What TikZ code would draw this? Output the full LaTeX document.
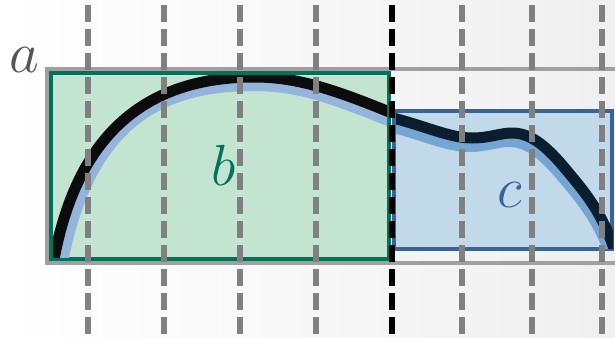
\RequirePackage{fix-cm}
\documentclass[tikz,border=0pt]{standalone}
\usetikzlibrary{positioning}
\definecolor{bgray}{RGB}{160,160,160}
\definecolor{dgray}{RGB}{128,128,128}
\definecolor{agray}{RGB}{85,85,85}
\definecolor{bline}{RGB}{0,115,90}
\definecolor{bfill}{RGB}{194,228,208}
\definecolor{cline}{RGB}{58,100,152}
\definecolor{cfill}{RGB}{194,217,234}
\definecolor{lshade}{RGB}{148,180,220}
\definecolor{rshade}{RGB}{116,165,211}
\definecolor{rtrace}{RGB}{10,30,48}
\definecolor{ltrace}{RGB}{12,12,12}

\begin{document}
\begin{tikzpicture}[
  x=1pt, y=-1pt,
  font=\fontsize{58}{58}\selectfont,
  region/.style={line width=4pt},
  guide/.style={line width=6pt, dgray, dash pattern=on 17pt off 7pt},
  cut/.style={guide, black},
  trace/.style={line width=11pt, line join=round},
  shade/.style={line width=10pt, line join=round},
  lbl/.style={anchor=base, inner sep=0pt},
]
% ---- canvas ----
\clip (0,0) rectangle (615,337);
\shade[left color=white, right color=black!6] (0,0) rectangle (615,337);
% ---- regions a, b, c ----
\draw[region, bgray] (47,69) rectangle (640,263);
\draw[region, bline, fill=bfill] (51,73) rectangle (389,259);
\draw[region, cline, fill=cfill] (394,111) rectangle (612,249);
% ---- the signal, left part ----
\begin{scope}
  \clip (53,75) rectangle (387,257);
  \draw[shade, lshade] (62,267) .. controls (89,122) and (160,86) .. (255,86)
    .. controls (300,86) and (336.7,100.4) .. (388.7,121.4);
  \draw[trace, ltrace] (53,265) .. controls (78,120) and (160,77) .. (255,77)
    .. controls (300,77) and (340,92) .. (392,113);
\end{scope}
% ---- the signal, right part ----
\begin{scope}
  \clip (396,113) rectangle (613,248);
  \draw[shade, rshade, shift={(-3,9)}] (393,118) .. controls (425,126) and (450,138) .. (472,138)
    .. controls (490,138) and (500,133) .. (512,133)
    .. controls (530,133) and (545,145) .. (563,166)
    .. controls (583,190) and (603,212) .. (616,255);
  \draw[trace, rtrace] (393,118) .. controls (425,126) and (450,138) .. (472,138)
    .. controls (490,138) and (500,133) .. (512,133)
    .. controls (530,133) and (545,145) .. (563,166)
    .. controls (583,190) and (603,212) .. (616,255);
\end{scope}
% ---- labels ----
\node[lbl, text=agray] (a) at (24,72) {$a$};
\node[lbl, text=bline] (b) at (224,185) {$b$};
\node[lbl, text=cline] (c) at (510,207) {$c$};
% ---- grid ----
\foreach \x in {88,164,240,316,462,532,602}
  \draw[guide] (\x,5) -- (\x,345);
\draw[cut] (392,5) -- (392,345);
\end{tikzpicture}
\end{document}
